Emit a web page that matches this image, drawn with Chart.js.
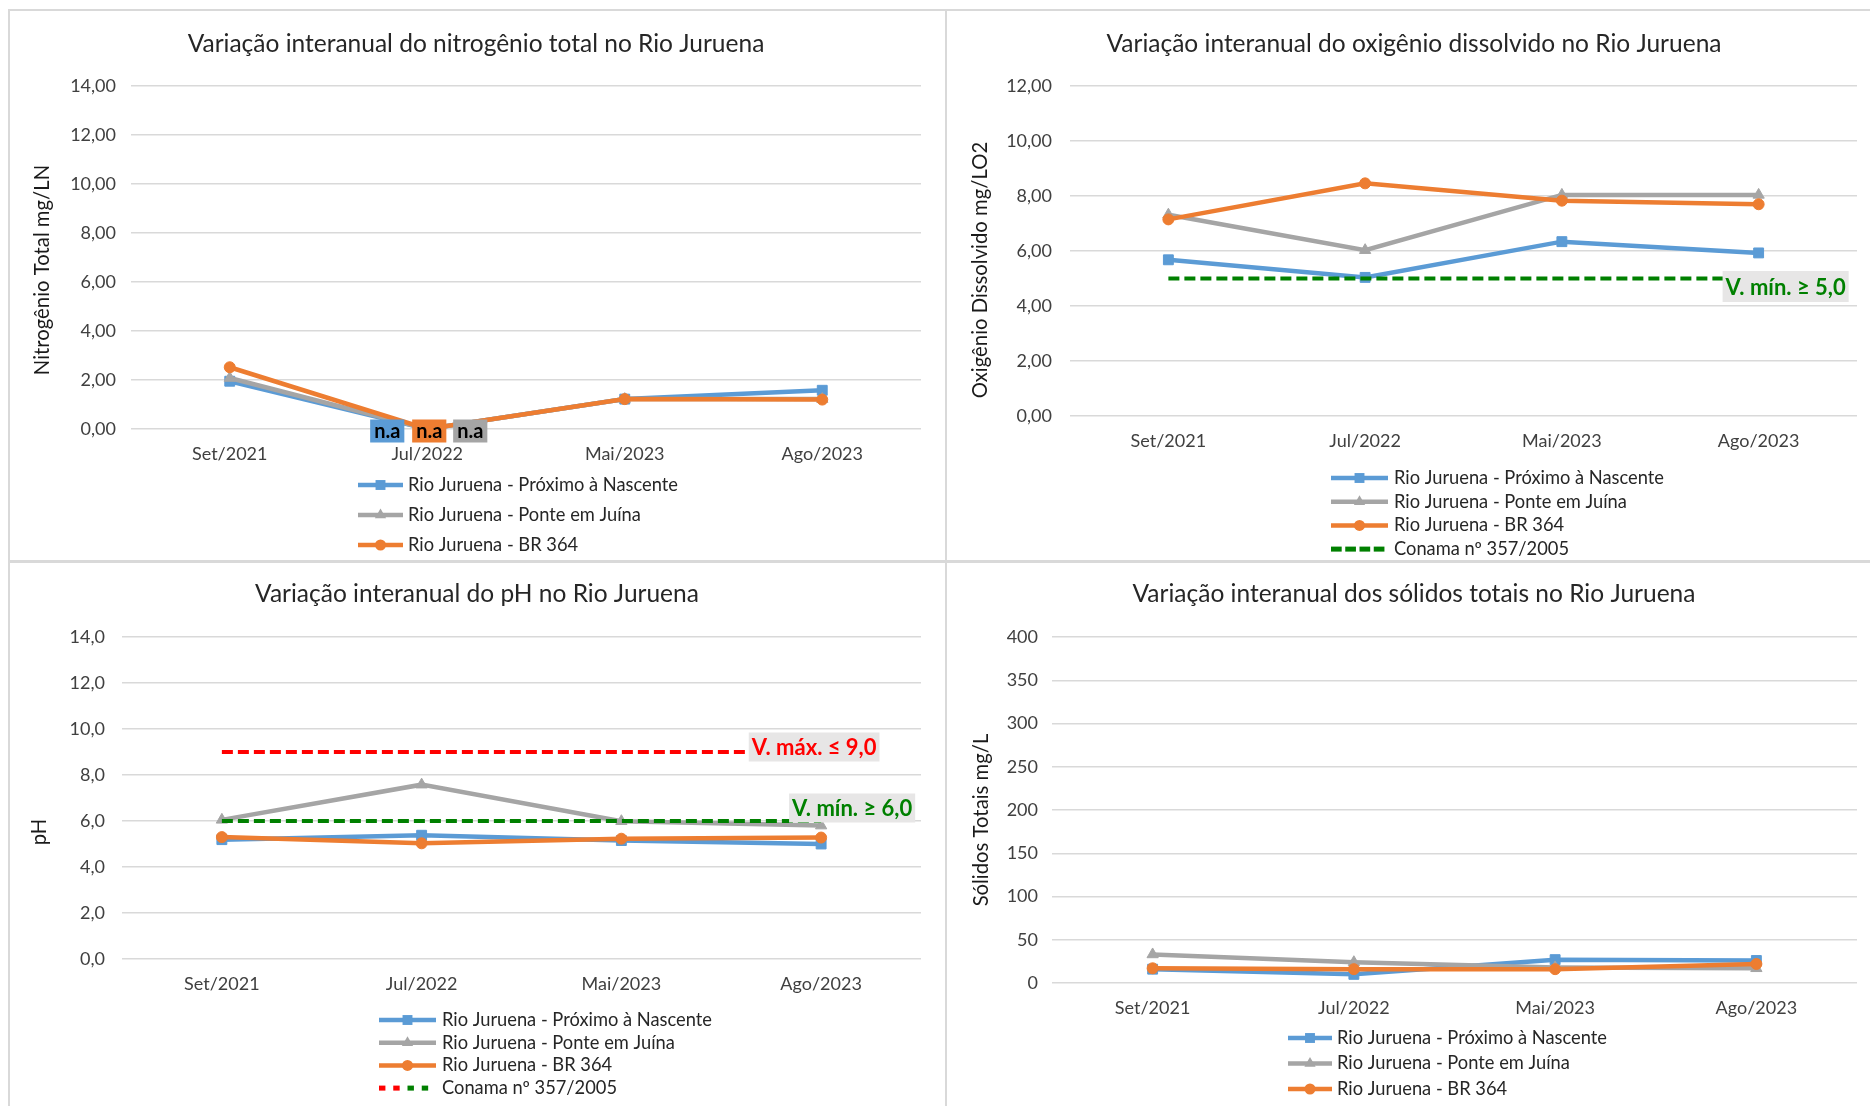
<!DOCTYPE html>
<html>
<head>
<meta charset="utf-8">
<script src="https://cdn.jsdelivr.net/npm/chart.js@4/dist/chart.umd.min.js"></script>
<style>
  html, body { margin: 0; padding: 0; background: #fff; }
  body { width: 1870px; height: 1106px; position: relative; overflow: hidden; font-family: Lato, sans-serif; }
  canvas { position: absolute; }
  .ln { position: absolute; background: #d9d9d9; }
</style>
</head>
<body>
<canvas id="nitro" width="936" height="550" style="left:9px;top:10px"></canvas>
<canvas id="oxig" width="925" height="550" style="left:945px;top:10px"></canvas>
<canvas id="ph" width="936" height="544" style="left:9px;top:562px"></canvas>
<canvas id="solidos" width="925" height="544" style="left:945px;top:562px"></canvas>

<div class="ln" style="left:8px;top:9px;width:1862px;height:2px"></div>
<div class="ln" style="left:8px;top:9px;width:2px;height:1097px"></div>
<div class="ln" style="left:945px;top:9px;width:2px;height:1097px"></div>
<div class="ln" style="left:8px;top:560px;width:1862px;height:3px"></div>

<script>
const categories = ["Set/2021", "Jul/2022", "Mai/2023", "Ago/2023"];
const seriesNames = ["Rio Juruena - Próximo à Nascente", "Rio Juruena - Ponte em Juína", "Rio Juruena - BR 364"];
const conamaName = "Conama nº 357/2005";

// nitrogênio total (mg/LN) - Jul/2022 sem análise (n.a), plotado como 0
const nitroNascente = [1.95, 0, 1.22, 1.58];
const nitroPonte = [2.08, 0, 1.22, 1.22];
const nitroBR364 = [2.52, 0, 1.22, 1.2];
const nitroAxis = [0, 14, 2];

// oxigênio dissolvido (mg/L O2)
const odNascente = [5.68, 5.04, 6.34, 5.93];
const odPonte = [7.32, 6.03, 8.04, 8.04];
const odBR364 = [7.15, 8.46, 7.83, 7.7];
const odConama = [5, 5, 5, 5];
const odAxis = [0, 12, 2];

// pH
const phNascente = [5.19, 5.38, 5.15, 5.0];
const phPonte = [6.05, 7.58, 5.99, 5.8];
const phBR364 = [5.3, 5.03, 5.23, 5.28];
const phConamaMax = [9, 9, 9, 9];
const phConamaMin = [6, 6, 6, 6];
const phAxis = [0, 14, 2];

// sólidos totais (mg/L)
const stNascente = [16, 10, 27, 26];
const stPonte = [33, 24, 18, 17];
const stBR364 = [17, 16, 16, 22];
const stAxis = [0, 400, 50];

const BLUE = "#5B9BD5", GRAY = "#A5A5A5", ORANGE = "#ED7D31", GREEN = "#008000", RED = "#FF0000";
const FONT = "Lato, 'Open Sans', sans-serif";

function series(label, data, color, style, r) {
  return { label, data, borderColor: color, backgroundColor: color, borderWidth: 4.5,
           pointStyle: style, pointRadius: r, pointHoverRadius: r, pointBorderWidth: 1,
           pointBorderColor: color, pointBackgroundColor: color, tension: 0 };
}
function limit(data, color) {
  return { label: conamaName, data, borderColor: color, backgroundColor: color, borderWidth: 4,
           borderDash: [11, 5], pointRadius: 0, pointHoverRadius: 0, tension: 0 };
}
function stations(a, b, c) {
  return [series(seriesNames[0], a, BLUE, "rect", 7),
          series(seriesNames[1], b, GRAY, "triangle", 6.5),
          series(seriesNames[2], c, ORANGE, "circle", 5.5)];
}

function drawMarker(ctx, style, x, y, r, color) {
  ctx.fillStyle = color;
  ctx.beginPath();
  if (style === "rect") {
    const s = r * Math.SQRT1_2;
    ctx.rect(x - s, y - s, 2 * s, 2 * s);
  } else if (style === "triangle") {
    ctx.moveTo(x, y - r);
    ctx.lineTo(x + 0.866 * r, y + 0.5 * r);
    ctx.lineTo(x - 0.866 * r, y + 0.5 * r);
    ctx.closePath();
  } else {
    ctx.arc(x, y, r, 0, Math.PI * 2);
  }
  ctx.fill();
}

// legenda empilhada como no Excel
const stackLegend = {
  id: "stackLegend",
  afterDraw(chart, args, o) {
    const ctx = chart.ctx;
    const items = [];
    chart.data.datasets.forEach(ds => {
      let it = items.find(i => i.text === ds.label);
      if (!it) { it = { text: ds.label, parts: [] }; items.push(it); }
      it.parts.push(ds);
    });
    ctx.save();
    ctx.font = "18.3px " + FONT;
    ctx.textBaseline = "middle";
    items.forEach((it, k) => {
      const y = chart.chartArea.bottom + o.top + k * o.rowGap;
      const x0 = o.left, x1 = o.left + o.sampleW;
      if (!it.parts[0].borderDash) {
        const ds = it.parts[0];
        ctx.strokeStyle = ds.borderColor;
        ctx.lineWidth = 4.5;
        ctx.beginPath(); ctx.moveTo(x0, y); ctx.lineTo(x1, y); ctx.stroke();
        drawMarker(ctx, ds.pointStyle, (x0 + x1) / 2, y, ds.pointRadius, ds.borderColor);
      } else {
        const n = 4, seg = o.sampleW / n;
        for (let d = 0; d < n; d++) {
          const ds = it.parts[Math.floor(d * it.parts.length / n)];
          ctx.fillStyle = ds.borderColor;
          ctx.fillRect(x0 + d * seg, y - 2.5, seg * o.dashFill, 5);
        }
      }
      ctx.fillStyle = "#262626";
      ctx.fillText(it.text, x1 + o.gap, y);
    });
    ctx.restore();
  }
};

// título do eixo y, posicionado como no original
const yCaption = {
  id: "yCaption",
  afterDraw(chart, args, o) {
    const ctx = chart.ctx;
    ctx.save();
    ctx.translate(o.x, o.y);
    ctx.rotate(-Math.PI / 2);
    ctx.font = "20.3px " + FONT;
    ctx.fillStyle = "#1a1a1a";
    ctx.textAlign = "center";
    ctx.textBaseline = "middle";
    ctx.fillText(o.text, 0, 0);
    ctx.restore();
  }
};

// rótulos de dados (n.a, limites Conama)
const pointTags = {
  id: "pointTags",
  afterDatasetsDraw(chart, args, o) {
    const ctx = chart.ctx;
    ctx.save();
    (o.tags || []).forEach(t => {
      const pt = chart.getDatasetMeta(t.ds).data[t.idx];
      ctx.font = t.font;
      const w = ctx.measureText(t.text).width;
      const cx = pt.x + t.dx, cy = pt.y + t.dy;
      ctx.fillStyle = t.bg;
      ctx.fillRect(cx - w / 2 - t.pad, cy - t.h / 2, w + 2 * t.pad, t.h);
      ctx.fillStyle = t.color;
      ctx.textAlign = "center";
      ctx.textBaseline = "middle";
      ctx.fillText(t.text, cx, cy + 1);
    });
    ctx.restore();
  }
};

function makeChart(id, p) {
  const canvas = document.getElementById(id);
  p.datasets.forEach((ds, i) => { ds.order = -i; });
  return new Chart(canvas, {
    type: "line",
    data: { labels: categories, datasets: p.datasets },
    plugins: [stackLegend, pointTags, yCaption],
    options: {
      responsive: false,
      animation: false,
      devicePixelRatio: 1,
      layout: { padding: { left: p.padLeft, top: 0, right: canvas.width - p.right, bottom: canvas.height - p.bottom - 40 } },
      plugins: {
        legend: { display: false },
        tooltip: { enabled: false },
        title: {
          display: true, text: p.title, color: "#262626",
          font: { family: FONT, size: 24.5, weight: "normal", lineHeight: 1.2 },
          padding: { top: p.titleY - 14.7, bottom: p.top - p.titleY - 14.7 }
        },
        stackLegend: p.legend,
        yCaption: p.yTitle,
        pointTags: { tags: p.tags || [] }
      },
      scales: {
        x: {
          offset: true,
          grid: { display: false, drawTicks: false },
          border: { display: false },
          ticks: { color: "#404040", padding: 14, font: { family: FONT, size: 18 } },
          afterFit(s) { s.height = 40; }
        },
        y: {
          min: p.axis[0], max: p.axis[1],
          ticks: {
            stepSize: p.axis[2], padding: p.tickGap, color: "#404040",
            font: { family: FONT, size: 18 },
            callback: v => v.toFixed(p.dec).replace(".", ",")
          },
          grid: { color: "#d9d9d9", lineWidth: 1.5, drawTicks: false },
          border: { display: false },
          afterFit(s) { s.width = p.left - p.padLeft; }
        }
      }
    }
  });
}

const naFont = "bold 20px " + FONT;
makeChart("nitro", {
  title: "Variação interanual do nitrogênio total no Rio Juruena",
  yTitle: { text: "Nitrogênio Total mg/LN", x: 33, y: 260 },
  datasets: stations(nitroNascente, nitroPonte, nitroBR364),
  axis: nitroAxis, dec: 2,
  padLeft: 22, left: 122, right: 912, top: 76, bottom: 419, titleY: 34, tickGap: 15,
  legend: { left: 349, top: 56, rowGap: 30, sampleW: 45, gap: 5, dashFill: 0.7 },
  tags: [
    { ds: 0, idx: 1, text: "n.a", font: naFont, color: "#000", bg: BLUE, dx: -40, dy: 2, pad: 4, h: 23 },
    { ds: 2, idx: 1, text: "n.a", font: naFont, color: "#000", bg: ORANGE, dx: 2, dy: 2, pad: 4, h: 23 },
    { ds: 1, idx: 1, text: "n.a", font: naFont, color: "#000", bg: GRAY, dx: 43, dy: 2, pad: 4, h: 23 }
  ]
});

makeChart("oxig", {
  title: "Variação interanual do oxigênio dissolvido no Rio Juruena",
  yTitle: { text: "Oxigênio Dissolvido mg/LO2", x: 35, y: 260 },
  datasets: stations(odNascente, odPonte, odBR364).concat([limit(odConama, GREEN)]),
  axis: odAxis, dec: 2,
  padLeft: 26, left: 125, right: 912, top: 76, bottom: 406, titleY: 34, tickGap: 18,
  legend: { left: 386, top: 62, rowGap: 23.7, sampleW: 57, gap: 6, dashFill: 0.75 },
  tags: [
    { ds: 3, idx: 3, text: "V. mín. ≥ 5,0", font: "bold 22px " + FONT, color: GREEN, bg: "#E7E6E6", dx: 27, dy: 8, pad: 3, h: 31 }
  ]
});

makeChart("ph", {
  title: "Variação interanual do pH no Rio Juruena",
  yTitle: { text: "pH", x: 30, y: 270 },
  datasets: stations(phNascente, phPonte, phBR364).concat([limit(phConamaMax, RED), limit(phConamaMin, GREEN)]),
  axis: phAxis, dec: 1,
  padLeft: 24, left: 113, right: 912, top: 75, bottom: 397, titleY: 32, tickGap: 17,
  legend: { left: 370, top: 61, rowGap: 22.7, sampleW: 57, gap: 6, dashFill: 0.45 },
  tags: [
    { ds: 3, idx: 3, text: "V. máx. ≤ 9,0", font: "bold 22px " + FONT, color: RED, bg: "#E7E6E6", dx: -7, dy: -5, pad: 3, h: 29 },
    { ds: 4, idx: 3, text: "V. mín. ≥ 6,0", font: "bold 22px " + FONT, color: GREEN, bg: "#E7E6E6", dx: 31, dy: -13, pad: 3, h: 29 }
  ]
});

makeChart("solidos", {
  title: "Variação interanual dos sólidos totais no Rio Juruena",
  yTitle: { text: "Sólidos Totais mg/L", x: 36, y: 258 },
  datasets: stations(stNascente, stPonte, stBR364),
  axis: stAxis, dec: 0,
  padLeft: 26, left: 107, right: 912, top: 75, bottom: 421, titleY: 32, tickGap: 14,
  legend: { left: 343, top: 55, rowGap: 25.5, sampleW: 44, gap: 5, dashFill: 0.7 }
});
</script>
</body>
</html>
